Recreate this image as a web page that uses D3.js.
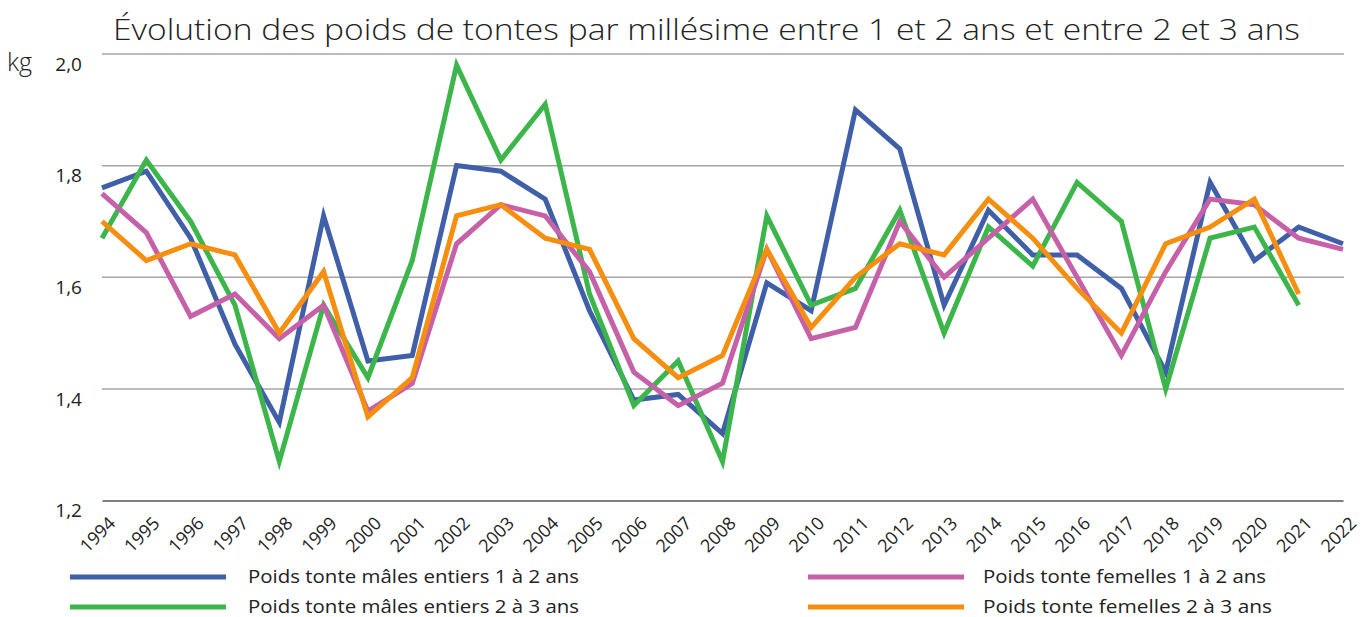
<!DOCTYPE html>
<html><head><meta charset="utf-8">
<script src="https://cdn.jsdelivr.net/npm/d3@7"></script>
<style>body{margin:0;background:#fff}svg{display:block}text{font-family:"Open Sans",Lato,sans-serif}</style>
</head><body><svg id="c" width="1365" height="617"></svg>
<script>
const years = d3.range(1994, 2023);
const yTicks = [1.2, 1.4, 1.6, 1.8, 2.0];
const males12 = [1.76,1.79,1.67,1.48,1.34,1.71,1.45,1.46,1.80,1.79,1.74,1.54,1.38,1.39,1.32,1.59,1.54,1.90,1.83,1.55,1.72,1.64,1.64,1.58,1.43,1.77,1.63,1.69,1.66];
const males23 = [1.67,1.81,1.70,1.55,1.27,1.55,1.42,1.63,1.98,1.81,1.91,1.57,1.37,1.45,1.27,1.71,1.55,1.58,1.72,1.50,1.69,1.62,1.77,1.70,1.40,1.67,1.69,1.55,null];
const fem12 = [1.75,1.68,1.53,1.57,1.49,1.55,1.36,1.41,1.66,1.73,1.71,1.61,1.43,1.37,1.41,1.65,1.49,1.51,1.70,1.60,1.67,1.74,1.60,1.46,1.61,1.74,1.73,1.67,1.65];
const fem23 = [1.70,1.63,1.66,1.64,1.50,1.61,1.35,1.42,1.71,1.73,1.67,1.65,1.49,1.42,1.46,1.65,1.51,1.60,1.66,1.64,1.74,1.67,1.58,1.50,1.66,1.69,1.74,1.57,null];
const seriesNames = ["Poids tonte mâles entiers 1 à 2 ans","Poids tonte mâles entiers 2 à 3 ans","Poids tonte femelles 1 à 2 ans","Poids tonte femelles 2 à 3 ans"];
const colors = ["#3f5fa8","#3cb64a","#c660a8","#f68e0f"];
const series = [males12, males23, fem12, fem23];

const svg = d3.select("#c");
const x = d3.scaleLinear().domain([1994, 2022]).range([102, 1343]);
const y = d3.scaleLinear().domain([1.2, 2.0]).range([500.5, 54]);

svg.append("text").attr("x", 113).attr("y", 40)
  .attr("font-size", 29).attr("font-weight", 300).attr("fill","#222")
  .attr("textLength", 1187).attr("lengthAdjust","spacingAndGlyphs")
  .text("Évolution des poids de tontes par millésime entre 1 et 2 ans et entre 2 et 3 ans");

// grid
const grid = svg.append("g");
grid.selectAll("line").data(yTicks.slice(1)).join("line")
  .attr("x1", 102).attr("x2", 1344).attr("y1", d=>y(d)).attr("y2", d=>y(d))
  .attr("stroke","#a6a6a6").attr("stroke-width",1.5);

const yAxis = d3.axisLeft(y).tickValues(yTicks).tickSize(0).tickPadding(20)
  .tickFormat(d => d3.format(".1f")(d).replace(".", ","));
const gy = svg.append("g").attr("transform","translate(102,0)").call(yAxis);
gy.select(".domain").remove();
gy.selectAll("text").style("font-size","19px").attr("font-weight",400).attr("fill","#222").attr("dy","0.85em");

svg.append("text").attr("x", 7).attr("y", 71).style("font-size","25px").attr("font-weight",300).attr("fill","#222").text("kg");

const xAxis = d3.axisBottom(x).tickValues(years).tickSize(0).tickFormat(d3.format("d"));
const gx = svg.append("g").attr("transform","translate(0,500.5)").call(xAxis);
gx.select(".domain").attr("stroke","#808080").attr("stroke-width",2.2);
gx.selectAll("text").style("font-size","18px").attr("fill","#222")
  .attr("text-anchor","end").attr("dy",0).attr("y",0)
  .attr("transform","translate(14,24) rotate(-45)");

const line = d3.line().defined(d => d != null).x((d,i)=>x(years[i])).y(d=>y(d));
svg.append("g").selectAll("path").data(series).join("path")
  .attr("d", line).attr("fill","none").attr("stroke",(d,i)=>colors[i])
  .attr("stroke-width",5).attr("stroke-linejoin","miter").attr("stroke-miterlimit",10);

// legend
const legPos = [[70,577,248,331],[70,607,248,331],[808,577,983,283],[808,607,983,289]];
const leg = svg.append("g");
seriesNames.forEach((n,i)=>{
  const [lx, ly, tx, tw] = legPos[i];
  leg.append("line").attr("x1",lx).attr("x2",lx+156).attr("y1",ly).attr("y2",ly)
    .attr("stroke",colors[i]).attr("stroke-width",5);
  leg.append("text").attr("x", tx).attr("y", ly+6).attr("font-size",18).attr("fill","#222")
    .attr("textLength", tw).attr("lengthAdjust","spacingAndGlyphs").text(n);
});
</script></body></html>
